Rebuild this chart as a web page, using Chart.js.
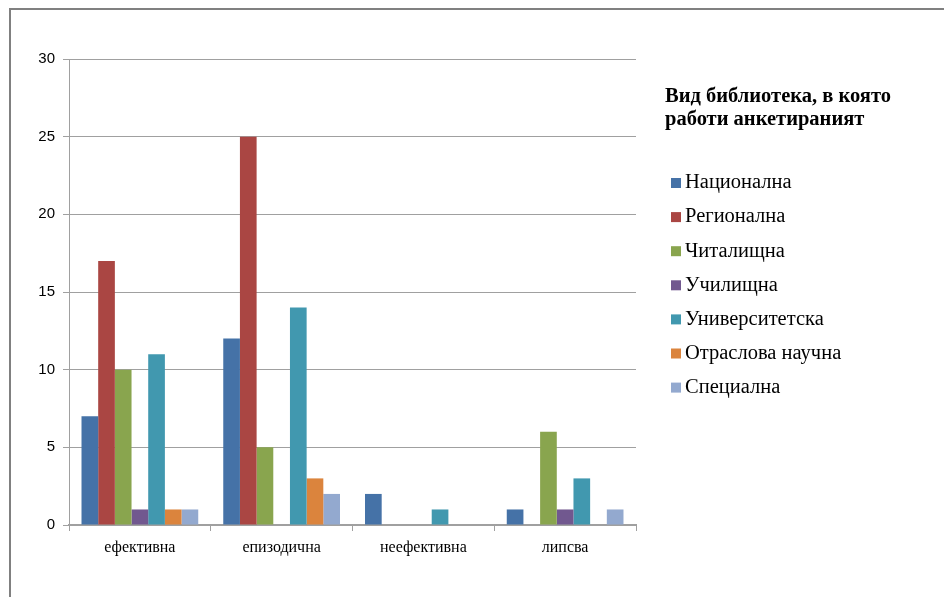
<!DOCTYPE html>
<html lang="bg">
<head>
<meta charset="utf-8">
<title>Вид библиотека, в която работи анкетираният</title>
<script src="https://cdn.jsdelivr.net/npm/chart.js@4.4.1/dist/chart.umd.min.js"></script>
<style>
  html, body { margin: 0; padding: 0; background: #fff; }
  #wrap { position: relative; width: 944px; height: 597px; }
</style>
</head>
<body>
<div id="wrap"><canvas id="chart" width="944" height="597"></canvas></div>
<script>
// Categories on the x axis
const categories = ['ефективна', 'епизодична', 'неефективна', 'липсва'];

// One array per library type (counts per category)
const nacionalna      = [7, 12, 2, 1];
const regionalna      = [17, 25, 0, 0];
const chitalishtna    = [10, 5, 0, 6];
const uchilishtna     = [1, 0, 0, 1];
const universitetska  = [11, 14, 1, 3];
const otraslova       = [1, 3, 0, 0];
const specialna       = [1, 2, 0, 1];

const seriesNames = ['Национална', 'Регионална', 'Читалищна', 'Училищна',
                     'Университетска', 'Отраслова научна', 'Специална'];
const seriesValues = [nacionalna, regionalna, chitalishtna, uchilishtna,
                      universitetska, otraslova, specialna];
const seriesColors = ['#4572A7', '#AA4643', '#89A54E', '#71588F',
                      '#4198AF', '#DB843D', '#93A9CF'];

// Value axis ticks
const yTickValues = [0, 5, 10, 15, 20, 25, 30];

const legendTitle = ['Вид библиотека, в която', 'работи анкетираният'];

const SERIF = '"Liberation Serif", "Times New Roman", serif';
const SANS = '"Liberation Sans", Arial, sans-serif';

// Outer frame: top and left edges only
const framePlugin = {
  id: 'frame',
  beforeDraw(chart) {
    const ctx = chart.ctx;
    ctx.save();
    ctx.fillStyle = '#ffffff';
    ctx.fillRect(0, 0, chart.width, chart.height);
    ctx.strokeStyle = '#808080';
    ctx.lineWidth = 2;
    ctx.beginPath();
    ctx.moveTo(10, chart.height);
    ctx.lineTo(10, 9);
    ctx.lineTo(chart.width, 9);
    ctx.stroke();
    ctx.restore();
  }
};

// Legend on the right with a bold two-line title
const sideLegendPlugin = {
  id: 'sideLegend',
  afterDraw(chart) {
    const ctx = chart.ctx;
    const x0 = chart.chartArea.right + 28;
    ctx.save();
    ctx.textBaseline = 'middle';
    ctx.textAlign = 'left';
    ctx.fillStyle = '#000';
    ctx.font = 'bold 20.5px ' + SERIF;
    legendTitle.forEach((line, i) => ctx.fillText(line, x0 + 1, 96.5 + i * 23));

    ctx.font = '20.5px ' + SERIF;
    chart.data.datasets.forEach((ds, i) => {
      const cy = 183 + i * 34.1;
      ctx.fillStyle = ds.backgroundColor;
      ctx.fillRect(x0 + 7, cy - 5, 10, 10);
      ctx.fillStyle = '#000';
      ctx.fillText(ds.label, x0 + 21, cy);
    });
    ctx.restore();
  }
};

const datasets = seriesNames.map((name, i) => ({
  label: name,
  data: seriesValues[i],
  backgroundColor: seriesColors[i],
  borderWidth: 0,
  barPercentage: 1.0,
  categoryPercentage: 7 / 8.5
}));

new Chart(document.getElementById('chart'), {
  type: 'bar',
  data: { labels: categories, datasets },
  plugins: [framePlugin, sideLegendPlugin],
  options: {
    responsive: false,
    animation: false,
    devicePixelRatio: 1,
    layout: { padding: { top: 59, right: 308, bottom: 0, left: 0 } },
    plugins: {
      legend: { display: false },
      tooltip: { enabled: false },
      title: { display: false }
    },
    scales: {
      x: {
        grid: {
          display: true,
          offset: true,
          drawOnChartArea: false,
          drawTicks: true,
          tickLength: 6,
          color: '#a0a0a0',
          lineWidth: 1
        },
        border: { display: true, color: '#a0a0a0', width: 2 },
        ticks: {
          color: '#000',
          font: { family: SERIF, size: 16 },
          padding: 7,
          maxRotation: 0
        },
        afterFit(scale) { scale.height = 72; }
      },
      y: {
        min: 0,
        max: 30,
        afterBuildTicks(scale) { scale.ticks = yTickValues.map(v => ({ value: v })); },
        grid: {
          display: true,
          color: '#a0a0a0',
          lineWidth: 1,
          drawTicks: true,
          tickLength: 6
        },
        border: { display: true, color: '#a0a0a0', width: 1 },
        ticks: {
          color: '#000',
          font: { family: SANS, size: 15 },
          padding: 8
        },
        afterFit(scale) { scale.width = 69; }
      }
    }
  }
});
</script>
</body>
</html>
